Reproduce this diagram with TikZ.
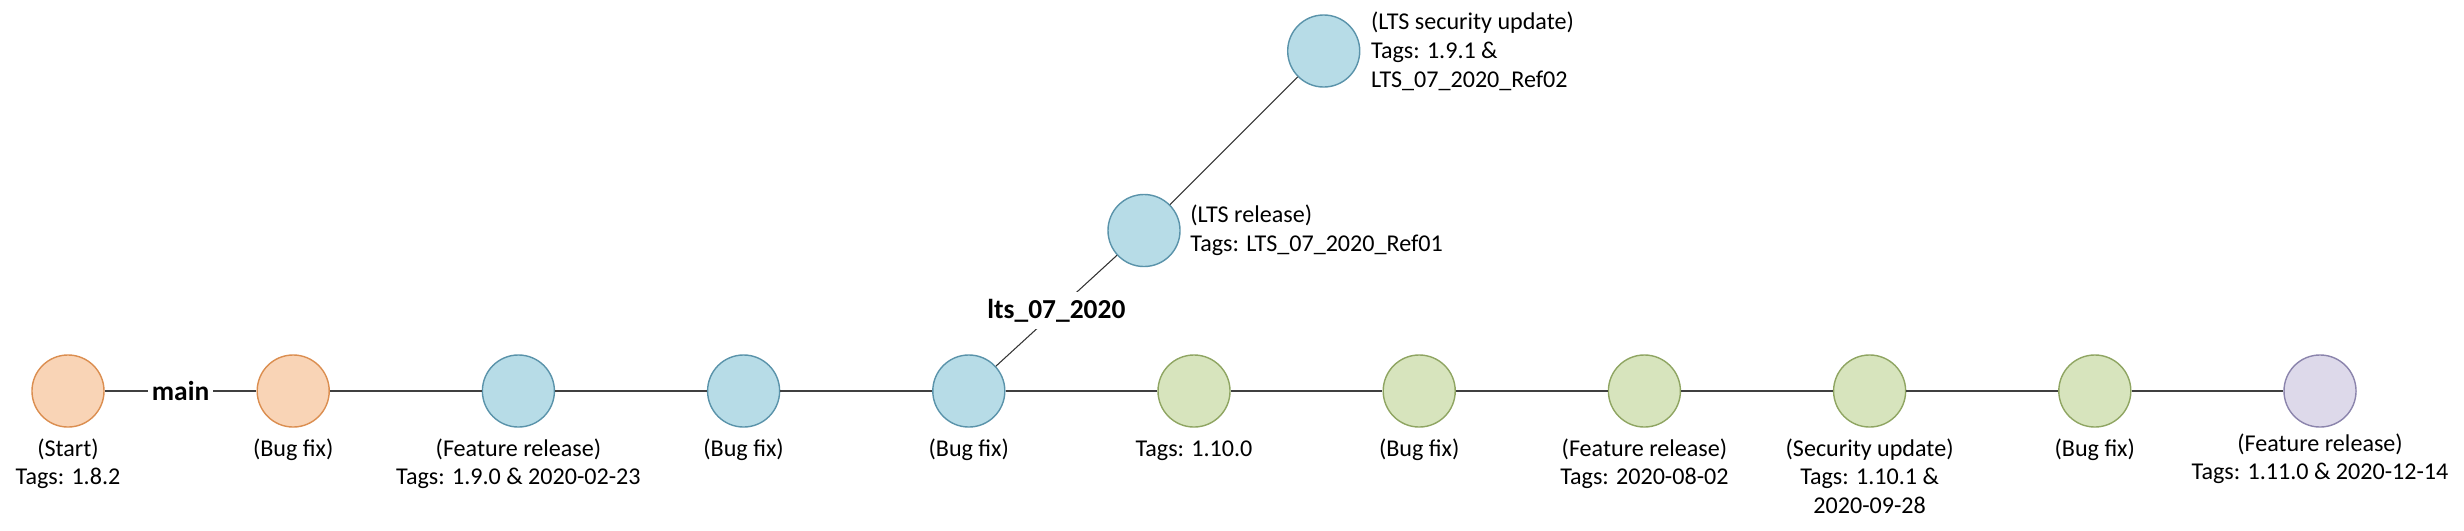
\documentclass[tikz,border=0pt]{standalone}
\usepackage{fontspec}
\setmainfont{Carlito}
\usetikzlibrary{positioning}
\definecolor{orangefill}{HTML}{F9D4B6}
\definecolor{orangeline}{HTML}{DB8E50}
\definecolor{bluefill}{HTML}{B7DCE7}
\definecolor{blueline}{HTML}{5A93AA}
\definecolor{greenfill}{HTML}{D7E4BD}
\definecolor{greenline}{HTML}{8FA562}
\definecolor{purplefill}{HTML}{DDD9EA}
\definecolor{purpleline}{HTML}{8B84AC}
\begin{document}
\begin{tikzpicture}[x=0.01cm,y=-0.01cm,
    commit/.style={circle,line width=0.4pt,minimum size=0.72cm,inner sep=0pt},
    orangecommit/.style={commit,draw=orangeline,fill=orangefill},
    bluecommit/.style={commit,draw=blueline,fill=bluefill},
    greencommit/.style={commit,draw=greenline,fill=greenfill},
    purplecommit/.style={commit,draw=purpleline,fill=purplefill},
    tag/.style={align=center,inner sep=0pt,font=\fontsize{6.85pt}{8.2pt}\selectfont},
    sidetag/.style={align=left,inner sep=0pt,font=\fontsize{6.85pt}{8.2pt}\selectfont},
    branchname/.style={fill=white,inner xsep=1pt,inner ysep=2pt,font=\fontsize{7.8pt}{9pt}\selectfont\bfseries}]
      \useasboundingbox (0,0) rectangle (2464,530);
      % main branch
      \node[orangecommit] (c0) at (68,391) {};
      \node[orangecommit] (c1) at (293.2,391) {};
      \node[bluecommit] (c2) at (518.4,391) {};
      \node[bluecommit] (c3) at (743.6,391) {};
      \node[bluecommit] (c4) at (968.8,391) {};
      \node[greencommit] (c5) at (1194,391) {};
      \node[greencommit] (c6) at (1419.2,391) {};
      \node[greencommit] (c7) at (1644.4,391) {};
      \node[greencommit] (c8) at (1869.6,391) {};
      \node[greencommit] (c9) at (2094.8,391) {};
      \node[purplecommit] (c10) at (2320,391) {};
      % lts branch
      \node[bluecommit] (lts1) at (1144,230.5) {};
      \node[bluecommit] (lts2) at (1323.7,51) {};
      \begin{scope}[every edge/.style={draw=black!75,line width=0.55pt}]
          \path (c0) edge node[branchname,midway] (mainname) {main} (c1);
          \path (c1) edge (c2);
          \path (c2) edge (c3);
          \path (c3) edge (c4);
          \path (c4) edge (c5);
          \path (c5) edge (c6);
          \path (c6) edge (c7);
          \path (c7) edge (c8);
          \path (c8) edge (c9);
          \path (c9) edge (c10);
      \end{scope}
      \begin{scope}[every edge/.style={draw=black!80,line width=0.3pt}]
          \path (c4) edge node[branchname,midway] (ltsname) {lts\_07\_2020} (lts1);
          \path (lts1) edge (lts2);
      \end{scope}
      % tags
      \node[tag,below=0.1cm of c0] (t0) {(Start)\\Tags: 1.8.2};
      \node[tag,below=0.1cm of c1] (t1) {(Bug fix)};
      \node[tag,below=0.1cm of c2] (t2) {(Feature release)\\Tags: 1.9.0 \& 2020-02-23};
      \node[tag,below=0.1cm of c3] (t3) {(Bug fix)};
      \node[tag,below=0.1cm of c4] (t4) {(Bug fix)};
      \node[tag,below=0.12cm of c5] (t5) {Tags: 1.10.0};
      \node[tag,below=0.1cm of c6] (t6) {(Bug fix)};
      \node[tag,below=0.1cm of c7] (t7) {(Feature release)\\Tags: 2020-08-02};
      \node[tag,below=0.1cm of c8] (t8) {(Security update)\\Tags: 1.10.1 \&\\2020-09-28};
      \node[tag,below=0.1cm of c9] (t9) {(Bug fix)};
      \node[tag,below=0.05cm of c10] (t10) {(Feature release)\\Tags: 1.11.0 \& 2020-12-14};
      \node[sidetag,right=0.09cm of lts1] (tl1) {(LTS release)\\Tags: LTS\_07\_2020\_Ref01};
      \node[sidetag,right=0.1cm of lts2] (tl2) {(LTS security update)\\Tags: 1.9.1 \&\\LTS\_07\_2020\_Ref02};
\end{tikzpicture}
\end{document}
